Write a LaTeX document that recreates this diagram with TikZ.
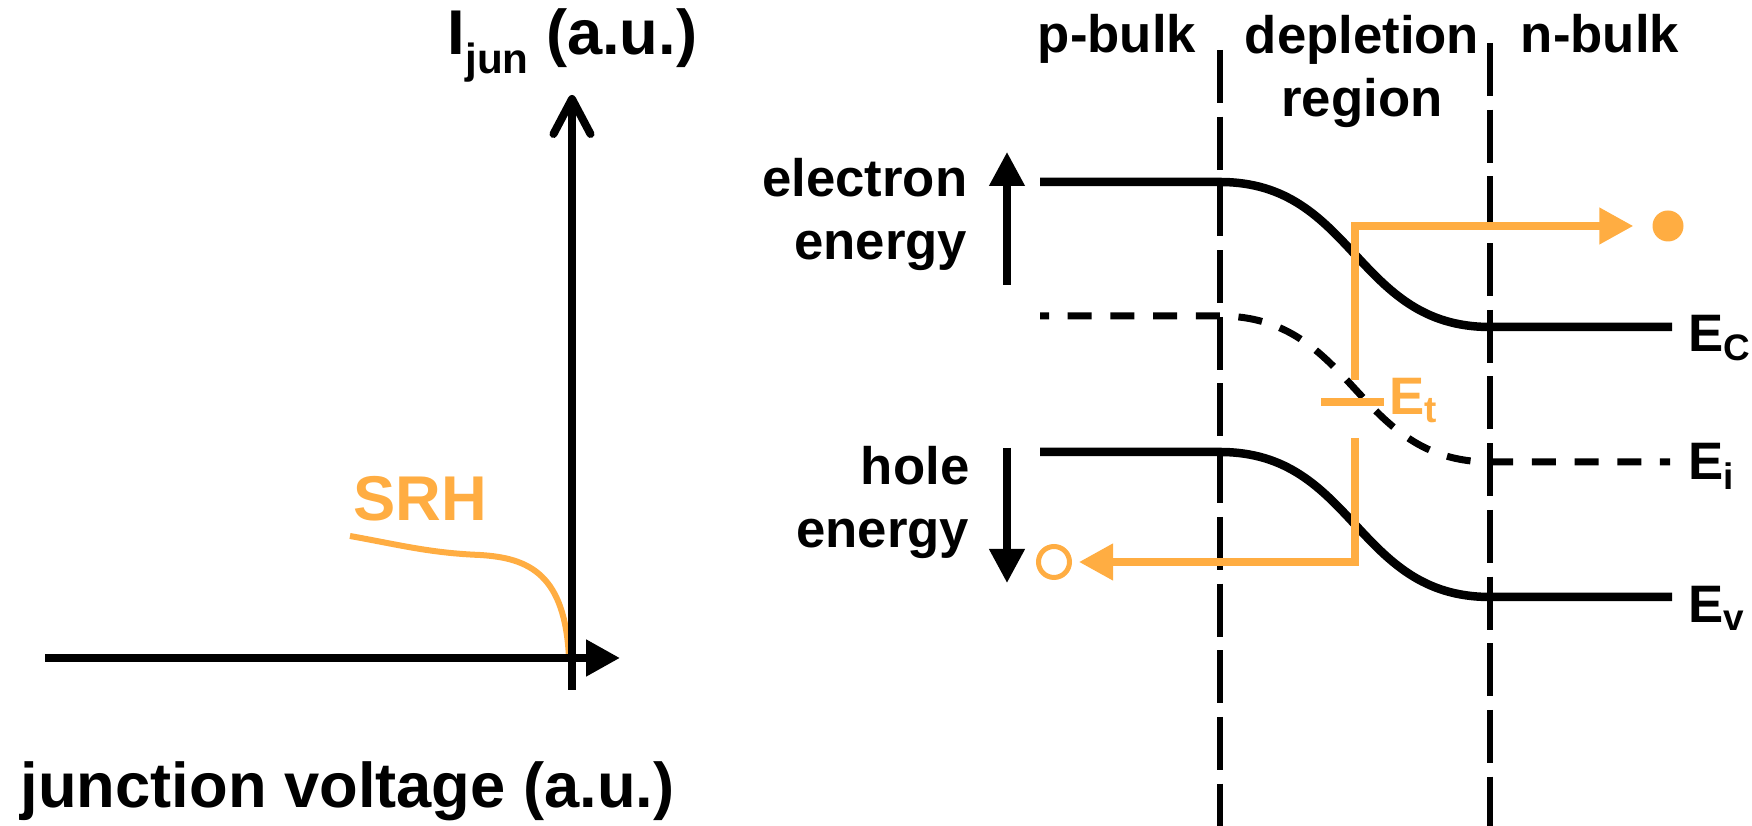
\documentclass[tikz,border=0pt]{standalone}
\usepackage{fontspec}
\setmainfont{Liberation Sans}
\usepackage{tikz}
\usetikzlibrary{arrows.meta,positioning}
\definecolor{srhorange}{RGB}{255,173,66}

\begin{document}
\begin{tikzpicture}[x=0.1mm, y=-0.1mm,
  axis/.style={line width=0.8mm},
  band/.style={line width=0.85mm},
  border/.style={line width=0.65mm, dash pattern=on 5.3mm off 1.37mm},
  midgap/.style={line width=0.7mm, dash pattern=on 2.4mm off 1.87mm, dash phase=1.5mm},
  carrier/.style={draw=srhorange, line width=0.75mm, -{Triangle[length=3.4mm, width=3.5mm]}},
  energy/.style={line width=0.75mm, -{Triangle[length=3.4mm, width=3.4mm]}},
  big/.style={font=\bfseries\fontsize{18}{21}\selectfont, inner sep=0pt},
  region/.style={font=\bfseries\fontsize{15}{18.2}\selectfont, inner sep=0pt, align=center},
  level/.style={font=\bfseries\fontsize{15}{18}\selectfont, inner sep=0pt, anchor=base west},
]
  \useasboundingbox (0,0) rectangle (1752,826);

  % I-V sketch
  \coordinate (vleft) at (45,658);
  \coordinate (vright) at (620,658);
  \coordinate (ibottom) at (572,690);
  \coordinate (itop) at (572,95);
  \draw[srhorange, line width=0.6mm] (350,536) .. controls (400,545) and (430,553) .. (480,555)
    .. controls (530,558) and (565,575) .. (569,658);
  \draw[axis, -{Triangle[length=3.4mm, width=3.5mm]}] (vleft) -- (vright);
  \draw[axis, -{Straight Barb[length=3.5mm, width=3.7mm, round]}] (ibottom) -- (itop);
  \node[big, anchor=base west] (ilabel) at (447,55)
    {I\raisebox{-1.9mm}{\fontsize{12}{12}\selectfont jun} (a.u.)};
  \node[big, anchor=base west] (vlabel) at (20,808) {junction voltage (a.u.)};
  \node[big, anchor=base, text=srhorange] (srh) at (420,521) {SRH};

  % Regions (base = last line)
  \draw[border] (1220,50) -- (1220,826);
  \draw[border] (1490,43) -- (1490,826);
  \node[region, anchor=base] (pbulk) at (1117,53) {p-bulk};
  \node[region, anchor=base] (depletion) at (1362,117) {depletion\\region};
  \node[region, anchor=base] (nbulk) at (1600,53) {n-bulk};

  % Bands
  \draw[band] (1040,182) -- (1220,182) .. controls +(135,0) and +(-135,0) .. (1490,327) -- (1672,327);
  \draw[midgap] (1040,316) -- (1220,316) .. controls +(135,0) and +(-135,0) .. (1490,462) -- (1670,462);
  \draw[band] (1040,452) -- (1220,452) .. controls +(135,0) and +(-135,0) .. (1490,597) -- (1672,597);
  \node[level] (ec) at (1688,352) {E\textsubscript{C}};
  \node[level] (ei) at (1688,480) {E\textsubscript{i}};
  \node[level] (ev) at (1688,623) {E\textsubscript{v}};

  % Energy axes
  \node[region, align=right, anchor=base east] (elabel) at (968,260) {electron\\energy};
  \node[region, align=right, anchor=base east] (hlabel) at (970,548) {hole\\energy};
  \coordinate (eup0) at (1007,285);
  \coordinate (eup1) at (1007,152);
  \coordinate (hdown0) at (1007,448);
  \coordinate (hdown1) at (1007,583);
  \draw[energy] (eup0) -- (eup1);
  \draw[energy] (hdown0) -- (hdown1);

  % Trap level and carriers
  \draw[srhorange, line width=0.8mm] (1321,402) -- (1384,402);
  \node[level, text=srhorange] (et) at (1389,415) {E\textsubscript{t}};
  \coordinate (trapup) at (1355,380);
  \coordinate (trapdown) at (1355,438);
  \node[circle, fill=srhorange, inner sep=0pt, minimum size=3.1mm] (electron) at (1668,226) {};
  \node[circle, draw=srhorange, line width=0.5mm, inner sep=0pt, minimum size=3.1mm] (hole) at (1054,562) {};
  \draw[carrier] (trapup) |- ([xshift=-1.85mm]electron.west);
  \draw[carrier] (trapdown) |- ([xshift=0.7mm]hole.east);
\end{tikzpicture}
\end{document}
